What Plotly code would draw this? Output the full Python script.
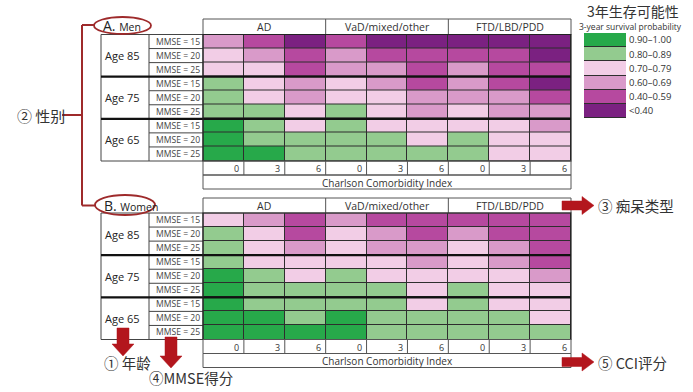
import plotly.graph_objects as go

W, H = 693, 392

# ---------------- data ----------------
dementia_types = ["AD", "VaD/mixed/other", "FTD/LBD/PDD"]
cci_levels = ["0", "3", "6"]
age_groups = ["Age 85", "Age 75", "Age 65"]
mmse_levels = ["MMSE = 15", "MMSE = 20", "MMSE = 25"]

# estimated 3-year survival probability
# rows: Age85 MMSE15/20/25, Age75 MMSE15/20/25, Age65 MMSE15/20/25
# cols: AD CCI0/3/6, VaD CCI0/3/6, FTD CCI0/3/6
men_survival = [
    [0.65, 0.50, 0.35, 0.50, 0.35, 0.35, 0.35, 0.35, 0.35],
    [0.75, 0.65, 0.50, 0.65, 0.50, 0.50, 0.50, 0.50, 0.35],
    [0.75, 0.75, 0.50, 0.65, 0.65, 0.50, 0.65, 0.50, 0.50],
    [0.85, 0.75, 0.65, 0.75, 0.65, 0.50, 0.65, 0.50, 0.35],
    [0.85, 0.75, 0.65, 0.75, 0.75, 0.65, 0.65, 0.65, 0.50],
    [0.85, 0.85, 0.75, 0.85, 0.75, 0.65, 0.75, 0.65, 0.65],
    [0.93, 0.85, 0.75, 0.85, 0.75, 0.75, 0.75, 0.75, 0.65],
    [0.93, 0.85, 0.85, 0.85, 0.85, 0.75, 0.85, 0.75, 0.75],
    [0.93, 0.93, 0.85, 0.85, 0.85, 0.85, 0.85, 0.75, 0.75],
]
women_survival = [
    [0.75, 0.65, 0.50, 0.65, 0.50, 0.50, 0.50, 0.50, 0.50],
    [0.85, 0.75, 0.50, 0.75, 0.65, 0.50, 0.65, 0.50, 0.50],
    [0.85, 0.75, 0.65, 0.75, 0.65, 0.65, 0.75, 0.65, 0.50],
    [0.85, 0.75, 0.75, 0.75, 0.75, 0.65, 0.75, 0.65, 0.50],
    [0.93, 0.85, 0.75, 0.85, 0.75, 0.75, 0.75, 0.75, 0.65],
    [0.93, 0.85, 0.85, 0.85, 0.85, 0.75, 0.85, 0.75, 0.75],
    [0.93, 0.85, 0.85, 0.85, 0.85, 0.75, 0.85, 0.75, 0.75],
    [0.93, 0.93, 0.85, 0.93, 0.85, 0.85, 0.85, 0.85, 0.75],
    [0.93, 0.93, 0.93, 0.93, 0.85, 0.85, 0.85, 0.85, 0.85],
]
legend_labels = ["0.90–1.00", "0.80–0.89", "0.70–0.79", "0.60–0.69", "0.40–0.59", "<0.40"]
legend_values = [0.95, 0.845, 0.745, 0.645, 0.495, 0.20]

# ---------------- styles ----------------
C_LT40 = "#7b2181"
C_40 = "#b6499f"
C_60 = "#d99ac9"
C_70 = "#f2cde6"
C_80 = "#93cb8f"
C_90 = "#27a94a"
colorscale = [
    [0.0, C_LT40], [0.4, C_LT40], [0.4, C_40], [0.6, C_40], [0.6, C_60], [0.7, C_60],
    [0.7, C_70], [0.8, C_70], [0.8, C_80], [0.9, C_80], [0.9, C_90], [1.0, C_90],
]
FONT = "Open Sans"
CJK = "Noto Sans CJK SC"
TXT = "#333333"
RED = "#b3161d"
DKRED = "#9e2a2b"


def X(px):
    return px / W


def Y(py):
    return 1 - py / H


GX0, GX1 = 203, 571
AGE_X0, MMSE_X0 = 101, 149
panels = [
    dict(name="A.", sub="Men", data=men_survival, xa="x", ya="y",
         head=19, top=34.5, bot=161, tick=175, cci=189, ell=(94, 17, 151, 34), lbl_y=25.5),
    dict(name="B.", sub="Women", data=women_survival, xa="x2", ya="y2",
         head=198, top=213, bot=339.5, tick=353.5, cci=367.5, ell=(95, 195, 155, 215), lbl_y=205),
]

fig = go.Figure()
shapes = []
ann = []


def line(x0, y0, x1, y1, color="#555555", width=1):
    shapes.append(dict(type="line", xref="paper", yref="paper", x0=X(x0), y0=Y(y0),
                       x1=X(x1), y1=Y(y1), line=dict(color=color, width=width)))


def rect(x0, y0, x1, y1, color="#555555", width=1):
    shapes.append(dict(type="rect", xref="paper", yref="paper", x0=X(x0), y0=Y(y0),
                       x1=X(x1), y1=Y(y1), line=dict(color=color, width=width)))


def text(x, y, s, size, xanchor="left", family=FONT, color=TXT, xref="paper"):
    ann.append(dict(x=x if xref != "paper" else X(x), y=Y(y), xref=xref, yref="paper",
                    text=s, showarrow=False, xanchor=xanchor, yanchor="middle",
                    font=dict(family=family, size=size, color=color)))


for k, p in enumerate(panels):
    fig.add_trace(go.Heatmap(
        z=p["data"], x=list(range(9)), y=list(range(9)),
        colorscale=colorscale, zmin=0, zmax=1, showscale=False,
        xgap=1, ygap=1, hoverinfo="skip", xaxis=p["xa"], yaxis=p["ya"]))

    rh = (p["bot"] - p["top"]) / 9
    cw = (GX1 - GX0) / 9
    # header
    rect(GX0, p["head"], GX1, p["top"])
    line(GX0 + 3 * cw, p["head"], GX0 + 3 * cw, p["top"])
    line(GX0 + 6 * cw, p["head"], GX0 + 6 * cw, p["top"])
    for g, dt in enumerate(dementia_types):
        text(g * 3 + 1, (p["head"] + p["top"]) / 2 + 0.5, dt, 10.5, xanchor="center", xref=p["xa"])
    # row label boxes
    rect(AGE_X0, p["top"], GX0, p["bot"], color="#444444")
    line(MMSE_X0, p["top"], MMSE_X0, p["bot"], color="#444444")
    for i in range(1, 9):
        if i % 3:
            line(MMSE_X0, p["top"] + i * rh, GX0, p["top"] + i * rh, color="#444444")
    for i in range(9):
        text(MMSE_X0 + 4.5, p["top"] + (i + 0.5) * rh, mmse_levels[i % 3], 8.6, color="#444444")
    for g, ag in enumerate(age_groups):
        text(AGE_X0 + 2, p["top"] + (g * 3 + 1.5) * rh, ag, 11, color="#222222")
    # thick group separators
    for i in (3, 6):
        line(AGE_X0, p["top"] + i * rh, GX1, p["top"] + i * rh, color="#111111", width=2.2)
    rect(GX0, p["top"], GX1, p["bot"], color="#222222", width=1.2)
    # CCI tick row
    rect(GX0, p["bot"], GX1, p["tick"])
    for j in range(1, 9):
        line(GX0 + j * cw, p["bot"], GX0 + j * cw, p["tick"])
    for j in range(9):
        text(j + 0.44, (p["bot"] + p["tick"]) / 2 + 0.5, cci_levels[j % 3], 9,
             xanchor="right", xref=p["xa"])
    rect(GX0, p["tick"], GX1, p["cci"])
    text((GX0 + GX1) / 2, (p["tick"] + p["cci"]) / 2 + 0.5, "Charlson Comorbidity Index", 10,
         xanchor="center")
    # panel label with ellipse
    e = p["ell"]
    shapes.append(dict(type="circle", xref="paper", yref="paper", x0=X(e[0]), y0=Y(e[1]),
                       x1=X(e[2]), y1=Y(e[3]), line=dict(color=DKRED, width=1.8)))
    text(e[0] + 7, p["lbl_y"], p["name"] + " <span style='font-size:10.5px'>" + p["sub"] + "</span>",
         14, color="#222222")

# legend heatmap
fig.add_trace(go.Heatmap(
    z=[[v] for v in legend_values], x=[0], y=list(range(6)),
    colorscale=colorscale, zmin=0, zmax=1, showscale=False,
    xgap=0, ygap=1, hoverinfo="skip", xaxis="x3", yaxis="y3"))
text(585, 11, "3年生存可能性", 14, family=CJK, color="#333333")
text(577, 26, "3-year survival probability", 8.5, color="#333333")

# bracket for sex
line(82, 25, 82, 205.5, color=DKRED, width=2)
line(82, 25, 95, 25, color=DKRED, width=2)
line(82, 205.5, 96, 205.5, color=DKRED, width=2)
line(62, 115, 82, 115, color=DKRED, width=2)
text(15, 115, "② 性别", 15, family=CJK, color="#333333")


def arrow_right(x0, xh, tip, yc, hb=4.5, hh=9):
    pts = [(x0, yc - hb), (xh, yc - hb), (xh, yc - hh), (tip, yc), (xh, yc + hh), (xh, yc + hb), (x0, yc + hb)]
    path = "M " + " L ".join(f"{X(a):.5f},{Y(b):.5f}" for a, b in pts) + " Z"
    shapes.append(dict(type="path", xref="paper", yref="paper", path=path,
                       fillcolor=RED, line=dict(color=RED, width=0.5)))


def arrow_down(xc, y0, yh, tip, wb=6, wh=11):
    pts = [(xc - wb, y0), (xc - wb, yh), (xc - wh, yh), (xc, tip), (xc + wh, yh), (xc + wb, yh), (xc + wb, y0)]
    path = "M " + " L ".join(f"{X(a):.5f},{Y(b):.5f}" for a, b in pts) + " Z"
    shapes.append(dict(type="path", xref="paper", yref="paper", path=path,
                       fillcolor=RED, line=dict(color=RED, width=0.5)))


arrow_right(562, 582, 594, 205.5)
text(596, 205.5, "③ 痴呆类型", 14.5, family=CJK)
arrow_right(562, 582, 594, 362)
text(596, 362, "⑤ CCI评分", 14.5, family=CJK)
arrow_down(123, 328, 344, 356)
text(102, 362, "① 年龄", 14.5, family=CJK)
arrow_down(171, 337, 356, 368)
text(147, 377, "④MMSE得分", 14.5, family=CJK)

hidden = dict(visible=False, fixedrange=True)
fig.update_layout(
    width=W, height=H, margin=dict(l=0, r=0, t=0, b=0),
    paper_bgcolor="white", plot_bgcolor="#2e2e2e", showlegend=False,
    xaxis=dict(domain=[X(GX0), X(GX1)], range=[-0.5, 8.5], anchor="y", **hidden),
    yaxis=dict(domain=[Y(161), Y(34.5)], range=[8.5, -0.5], anchor="x", **hidden),
    xaxis2=dict(domain=[X(GX0), X(GX1)], range=[-0.5, 8.5], anchor="y2", **hidden),
    yaxis2=dict(domain=[Y(339.5), Y(213)], range=[8.5, -0.5], anchor="x2", **hidden),
    xaxis3=dict(domain=[X(584), X(626)], range=[-0.5, 0.5], anchor="y3", **hidden),
    yaxis3=dict(domain=[Y(118), Y(33)], range=[5.5, -0.5], anchor="x3", side="right",
                tickvals=list(range(6)), ticktext=legend_labels, showgrid=False,
                zeroline=False, showline=False, ticks="", ticklabelstandoff=2,
                tickfont=dict(family=FONT, size=9.5, color="#333333"), fixedrange=True),
    shapes=shapes, annotations=ann,
)
fig.write_html("out.html", config={"displayModeBar": False},
               post_script="document.body.style.margin='0';document.body.style.overflow='hidden';")
